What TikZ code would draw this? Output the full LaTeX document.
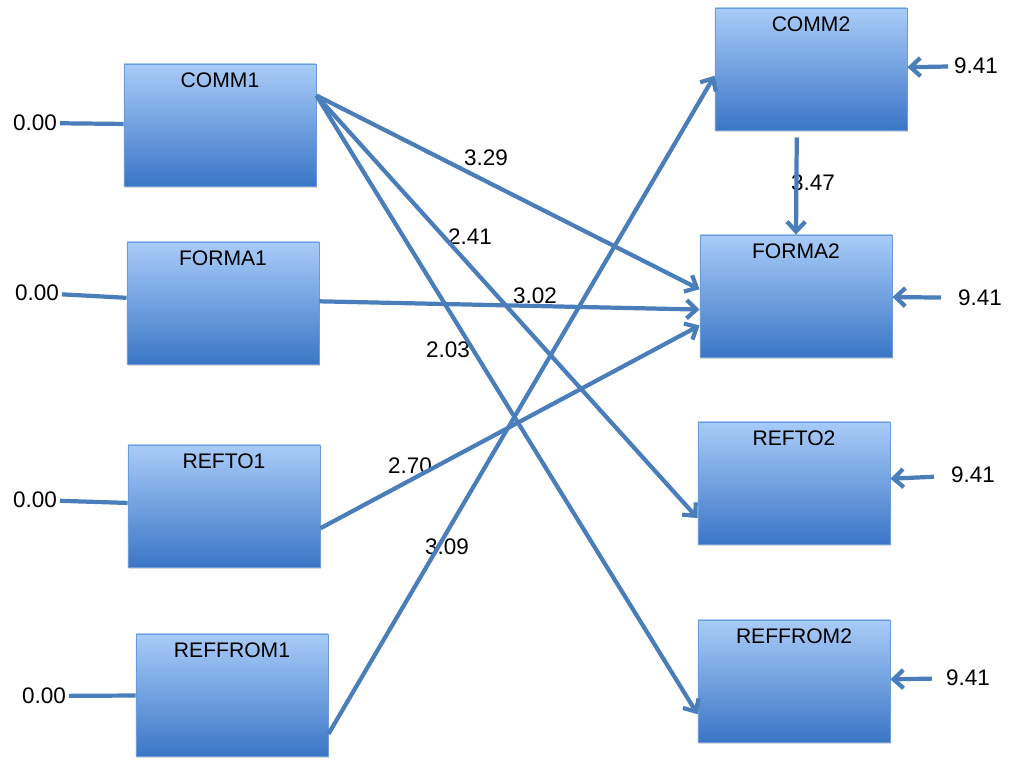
\documentclass[tikz,border=0pt]{standalone}
\usepackage{fontspec}
\setmainfont{Liberation Sans}
\usepackage{tikz}
\usetikzlibrary{arrows.meta,shadows}

\definecolor{pathblue}{HTML}{4A7EBB}
\definecolor{boxtop}{HTML}{A9CCF8}
\definecolor{boxbot}{HTML}{3A76C6}
\definecolor{boxline}{HTML}{6A9BDA}

\tikzset{
	factor/.style={rectangle, draw=boxline, line width=0.6pt,
		top color=boxtop, bottom color=boxbot,
		minimum width=4.8cm, minimum height=3.05cm,
		drop shadow={opacity=0.3, shadow xshift=0.8pt, shadow yshift=-1.2pt},
		label={[anchor=north, yshift=-3pt, font=\fontsize{15}{18}\selectfont]north:#1}},
	coef/.style={font=\fontsize{16}{19}\selectfont, inner sep=2pt},
}

\begin{document}
\begin{tikzpicture}[x=0.025cm, y=-0.025cm]
		\useasboundingbox (0,0) rectangle (1032,760);

		\node[factor=COMM1] (C1) at (220,125) {};
		\node[factor=FORMA1] (F1) at (223,303) {};
		\node[factor=REFTO1] (T1) at (224,506) {};
		\node[factor=REFFROM1] (R1) at (232,695) {};

		\node[factor=COMM2] (C2) at (811,69) {};
		\node[factor=FORMA2] (F2) at (796,296) {};
		\node[factor=REFTO2] (T2) at (794,483) {};
		\node[factor=REFFROM2] (R2) at (794,681) {};

		\node[coef] (zC1) at (35,123) {0.00};
		\node[coef] (zF1) at (37,293) {0.00};
		\node[coef] (zT1) at (35,500) {0.00};
		\node[coef] (zR1) at (44,696) {0.00};

		\node[coef] (eC2) at (976,66) {9.41};
		\node[coef] (eF2) at (980,298) {9.41};
		\node[coef] (eT2) at (973,475) {9.41};
		\node[coef] (eR2) at (968,678) {9.41};
		%
		\node[coef] (w329) at (486,158) {3.29};
		\node[coef] (w241) at (470,237) {2.41};
		\node[coef] (w302) at (535,296) {3.02};
		\node[coef] (w203) at (448,350) {2.03};
		\node[coef] (w270) at (410,466) {2.70};
		\node[coef] (w309) at (447,547) {3.09};
		\node[coef] (w347) at (813,183) {3.47};
		%
		\path[-{Straight Barb[length=7pt,width=13pt]}, pathblue, line width=3pt]
			(C1.17) edge (F2.176)
			(C1.17) edge (T2.200)
			(C1.17) edge (R2.199)
			(F1.1) edge (F2.188)
			(T1.347) edge (F2.197)
			(R1.338) edge (C2.184)
			(C2.257) edge[shorten <=5pt] (F2.north)

			(zC1) edge[-] (C1)
			(zF1) edge[-] (F1)
			(zT1) edge[-] (T1)
			(zR1) edge[-] (R1)

			(eC2) edge[shorten <=2pt] (C2)
			(eF2) edge[shorten <=10pt] (F2)
			(eT2) edge[shorten <=10pt] (T2)
			(eR2) edge[shorten <=8pt] (R2);
\end{tikzpicture}
\end{document}
